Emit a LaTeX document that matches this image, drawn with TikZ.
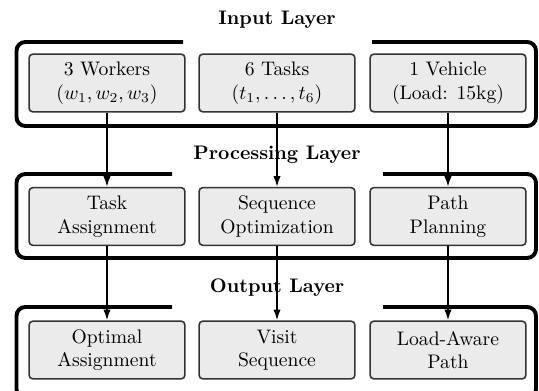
\documentclass[tikz,border=0pt]{standalone}
\usetikzlibrary{arrows.meta}
\definecolor{boxfill}{HTML}{EBEBEB}
\definecolor{boxline}{HTML}{333333}
\tikzset{
  unit/.style={draw=boxline, line width=0.8pt, fill=boxfill, rounded corners=2pt,
    minimum width=79.5pt, minimum height=29.5pt, align=center, inner sep=2pt},
  layertitle/.style={font=\bfseries, anchor=base, inner sep=0pt},
  frame/.style={line width=2pt, rounded corners=4.5pt},
  flow/.style={line width=0.8pt, -{Latex[length=5.5pt,width=3.8pt]}}
}
\begin{document}
\begin{tikzpicture}[x=0.51pt, y=-0.51pt]
\useasboundingbox (0,0) rectangle (539,391);

% layer titles
\node[layertitle] (tin)  at (277,25)  {Input Layer};
\node[layertitle] (tpro) at (277,160) {Processing Layer};
\node[layertitle] (tout) at (277,293) {Output Layer};

% layer frames, open at the top under each title
\draw[frame] (183,42) -- (16.5,42) -- (16.5,126) -- (536,126) -- (536,42) -- (372,42);
\draw[frame] (172,174) -- (16.5,174) -- (16.5,258) -- (536,258) -- (536,174) -- (383,174);
\draw[frame] (172,307) -- (16.5,307) -- (16.5,398) -- (536,398) -- (536,307) -- (383,307);

% input layer
\node[unit] (wk) at (107,83)  {3 Workers\\$(w_1, w_2, w_3)$};
\node[unit] (tk) at (277,83)  {6 Tasks\\$(t_1, \ldots, t_6)$};
\node[unit] (vh) at (448,83)  {1 Vehicle\\(Load: 15kg)};

% processing layer
\node[unit] (ta) at (107,216.5) {Task\\Assignment};
\node[unit] (so) at (277,216.5) {Sequence\\Optimization};
\node[unit] (pp) at (448,216.5) {Path\\Planning};

% output layer
\node[unit] (oa) at (107,350) {Optimal\\Assignment};
\node[unit] (vs) at (277,350) {Visit\\Sequence};
\node[unit] (lp) at (448,350) {Load-Aware\\Path};

% data flow
\draw[flow] (wk) -- (ta);
\draw[flow] (tk) -- (so);
\draw[flow] (vh) -- (pp);
\draw[flow] (ta) -- (oa);
\draw[flow] (so) -- (vs);
\draw[flow] (pp) -- (lp);
\end{tikzpicture}
\end{document}
